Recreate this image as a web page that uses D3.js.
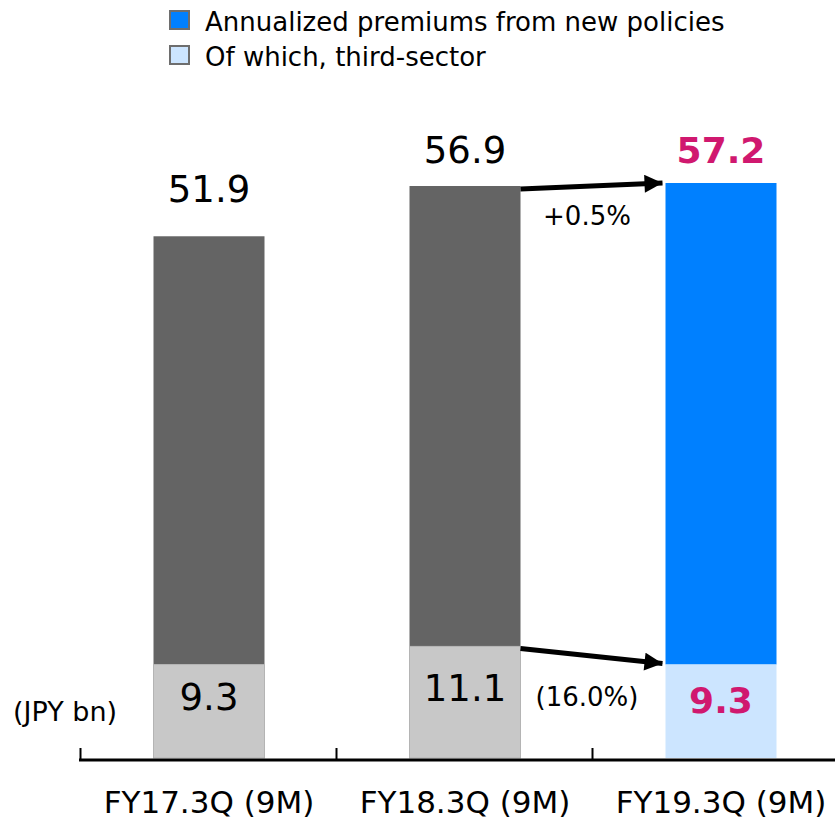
<!DOCTYPE html>
<html>
<head>
<meta charset="utf-8">
<script src="https://cdn.jsdelivr.net/npm/d3@7"></script>
<style>
  body { margin: 0; background: #fff; }
  text { font-family: "DejaVu Sans", Verdana, sans-serif; }
</style>
</head>
<body>
<div id="chart"></div>
<script>
// Data
var categories = ["FY17.3Q (9M)", "FY18.3Q (9M)", "FY19.3Q (9M)"];
var totals = [51.9, 56.9, 57.2];
var thirdSector = [9.3, 11.1, 9.3];
var growthLabels = ["+0.5%", "(16.0%)"];
var legendLabels = ["Annualized premiums from new policies", "Of which, third-sector"];
var unitLabel = "(JPY bn)";

// Layout
var W = 835, H = 823;
var baseY = 758;
var totalGap = [34, 23, 20];          // label distance above bar top
var dark = "#646464", light = "#c8c8c8",
    blue = "#0080ff", lightBlue = "#cce5ff", pink = "#d0186f";

var svg = d3.select("#chart").append("svg")
    .attr("width", W).attr("height", H);

var x = d3.scaleBand().domain(categories).range([81, 849]).padding(0);
var barW = 111;
var y = d3.scaleLinear().domain([0, 57.2]).range([baseY, 183]);

function bx(d) { return x(d) + (x.bandwidth() - barW) / 2; }
function cx(d) { return x(d) + x.bandwidth() / 2; }
var last = categories.length - 1;

// Bars
var bars = svg.append("g").selectAll("g")
    .data(categories)
    .enter().append("g");

bars.append("rect")
    .attr("x", function(d) { return bx(d); })
    .attr("y", function(d, i) { return y(totals[i]); })
    .attr("width", barW)
    .attr("height", function(d, i) { return y(thirdSector[i]) - y(totals[i]); })
    .style("fill", function(d, i) { return i === last ? blue : dark; });

bars.append("rect")
    .attr("x", function(d) { return bx(d); })
    .attr("y", function(d, i) { return y(thirdSector[i]); })
    .attr("width", barW)
    .attr("height", function(d, i) { return baseY - y(thirdSector[i]); })
    .style("fill", function(d, i) { return i === last ? lightBlue : light; })
    .style("stroke", function(d, i) { return i === last ? "none" : "#b4b4b4"; })
    .style("stroke-width", 1);

// Value labels
bars.append("text")
    .attr("x", function(d) { return cx(d); })
    .attr("y", function(d, i) { return y(totals[i]) - totalGap[i]; })
    .attr("text-anchor", "middle")
    .style("font-size", function(d, i) { return i === last ? "36px" : "37px"; })
    .style("font-weight", function(d, i) { return i === last ? "bold" : "normal"; })
    .style("fill", function(d, i) { return i === last ? pink : "#000"; })
    .text(function(d, i) { return totals[i].toFixed(1); });

bars.append("text")
    .attr("x", function(d) { return cx(d); })
    .attr("y", function(d, i) { return (y(thirdSector[i]) + baseY) / 2 + (i === last ? 2 : -1); })
    .attr("text-anchor", "middle")
    .style("font-size", function(d, i) { return i === last ? "36px" : "37px"; })
    .style("font-weight", function(d, i) { return i === last ? "bold" : "normal"; })
    .style("fill", function(d, i) { return i === last ? pink : "#000"; })
    .text(function(d, i) { return thirdSector[i].toFixed(1); });

// Axis
var axis = svg.append("g");
axis.append("line")
    .attr("x1", 79).attr("x2", W)
    .attr("y1", baseY + 2).attr("y2", baseY + 2)
    .attr("stroke", "#000").attr("stroke-width", 3);

axis.selectAll(".tick")
    .data(categories)
    .enter().append("line")
    .attr("x1", function(d) { return x(d) - 0.5; })
    .attr("x2", function(d) { return x(d) - 0.5; })
    .attr("y1", baseY - 10).attr("y2", baseY + 2)
    .attr("stroke", "#000").attr("stroke-width", 2);

axis.selectAll(".lbl")
    .data(categories)
    .enter().append("text")
    .attr("x", function(d) { return cx(d); })
    .attr("y", 813)
    .attr("text-anchor", "middle")
    .style("font-size", "31px")
    .text(function(d) { return d; });

svg.append("text")
    .attr("x", 13).attr("y", 721)
    .style("font-size", "27px")
    .text(unitLabel);

// Arrows
var defs = svg.append("defs");
defs.append("marker")
    .attr("id", "head")
    .attr("viewBox", "0 0 10 10")
    .attr("refX", 10).attr("refY", 5)
    .attr("markerUnits", "userSpaceOnUse")
    .attr("markerWidth", 21).attr("markerHeight", 18)
    .attr("orient", "auto")
  .append("path")
    .attr("d", "M0,0 L10,5 L0,10 Z")
    .attr("fill", "#000");

var fromCat = categories[1], toCat = categories[2];
var arrows = [
  { y1: y(totals[1]) + 3, y2: y(totals[2]) },
  { y1: y(thirdSector[1]) + 2, y2: y(thirdSector[2]) - 1 }
];
svg.append("g").selectAll("line")
    .data(arrows)
    .enter().append("line")
    .attr("x1", bx(fromCat) + barW)
    .attr("x2", bx(toCat) - 3)
    .attr("y1", function(d) { return d.y1; })
    .attr("y2", function(d) { return d.y2; })
    .attr("stroke", "#000")
    .attr("stroke-width", 5)
    .attr("marker-end", "url(#head)");

// Growth labels
svg.append("text")
    .attr("x", (bx(fromCat) + barW + bx(toCat)) / 2 - 6)
    .attr("y", 225)
    .attr("text-anchor", "middle")
    .style("font-size", "26px")
    .text(growthLabels[0]);

svg.append("text")
    .attr("x", (bx(fromCat) + barW + bx(toCat)) / 2 - 6)
    .attr("y", 706)
    .attr("text-anchor", "middle")
    .style("font-size", "26px")
    .text(growthLabels[1]);

// Legend
var legend = svg.append("g").selectAll("g")
    .data(legendLabels)
    .enter().append("g")
    .attr("transform", function(d, i) { return "translate(170," + (11 + i * 35) + ")"; });

legend.append("rect")
    .attr("width", 19).attr("height", 18)
    .style("fill", function(d, i) { return i === 0 ? blue : lightBlue; })
    .style("stroke", "#6e6e6e")
    .style("stroke-width", 2);

legend.append("text")
    .attr("x", 35).attr("y", 20)
    .style("font-size", "26px")
    .text(function(d) { return d; });
</script>
</body>
</html>
